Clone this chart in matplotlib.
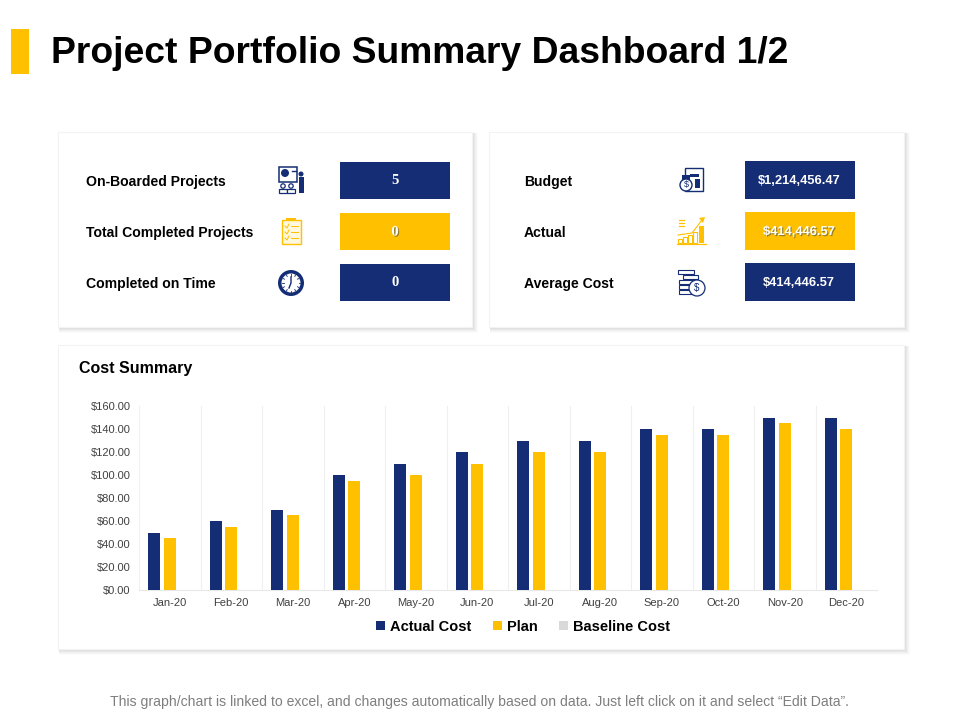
import matplotlib
matplotlib.use("Agg")
import matplotlib.pyplot as plt
import matplotlib.patheffects as pe
from matplotlib.patches import Rectangle, Circle, Polygon
from matplotlib.ticker import StrMethodFormatter
import numpy as np

plt.rcParams["font.family"] = ["Liberation Sans", "DejaVu Sans"]

NAVY = "#142d75"
GOLD = "#ffc000"

months = ["Jan-20", "Feb-20", "Mar-20", "Apr-20", "May-20", "Jun-20",
          "Jul-20", "Aug-20", "Sep-20", "Oct-20", "Nov-20", "Dec-20"]
actual_cost = [50, 60, 70, 100, 110, 120, 130, 130, 140, 140, 150, 150]
plan = [45, 55, 65, 95, 100, 110, 120, 120, 135, 135, 145, 140]
baseline_cost = [0, 0, 0, 0, 0, 0, 0, 0, 0, 0, 0, 0]

left_labels = ["On-Boarded Projects", "Total Completed Projects", "Completed on Time"]
left_values = ["5", "0", "0"]
right_labels = ["Budget", "Actual", "Average Cost"]
right_values = ["$1,214,456.47", "$414,446.57", "$414,446.57"]
row_y = [181, 232, 283]
box_colors = [NAVY, GOLD, NAVY]


def panel(bg, x0, y0, x1, y1):
    # soft shadow, then the white card
    for i, a in zip([5, 4, 3, 2, 1], [0.03, 0.04, 0.05, 0.06, 0.07]):
        bg.add_patch(Rectangle((x0 + 1, y0 + 1), x1 - x0 + i, y1 - y0 + i,
                               fc="#808080", ec="none", alpha=a))
    bg.add_patch(Rectangle((x0, y0), x1 - x0, y1 - y0, fc="white", ec="#f3f3f3", lw=0.8))


def icon_board(bg, cx, cy):
    bg.add_patch(Rectangle((cx - 12, cy - 13), 18, 15, fc="white", ec=NAVY, lw=1.1))
    bg.add_patch(Circle((cx - 6, cy - 7), 4, fc=NAVY, ec="none"))
    bg.plot([cx + 1, cx + 5], [cy - 9, cy - 9], color=NAVY, lw=1)
    bg.add_patch(Rectangle((cx + 8, cy - 3), 5, 16, fc=NAVY, ec="none"))
    bg.add_patch(Circle((cx + 10, cy - 6), 2.5, fc=NAVY, ec="none"))
    for dx in [-8, 0]:
        bg.add_patch(Circle((cx + dx, cy + 6), 2.2, fc="white", ec=NAVY, lw=0.9))
        bg.add_patch(Rectangle((cx + dx - 4, cy + 9), 8, 4, fc="white", ec=NAVY, lw=0.9))


def icon_clipboard(bg, cx, cy):
    bg.add_patch(Rectangle((cx - 9, cy - 11), 19, 24, fc="#fff8dc", ec=GOLD, lw=1))
    bg.add_patch(Rectangle((cx - 5, cy - 13), 10, 3, fc=GOLD, ec="none"))
    for dy in [-5, 1, 7]:
        bg.plot([cx - 6, cx - 4, cx - 2], [cy + dy, cy + dy + 2, cy + dy - 2], color=GOLD, lw=0.7)
        bg.plot([cx, cx + 7], [cy + dy, cy + dy], color=GOLD, lw=0.7)


def icon_clock(bg, cx, cy):
    bg.add_patch(Circle((cx, cy), 13, fc=NAVY, ec="none"))
    bg.add_patch(Circle((cx, cy), 9.5, fc="white", ec="none"))
    for a in np.arange(0, 360, 30):
        r = np.deg2rad(a)
        bg.plot([cx + 7.5 * np.cos(r), cx + 9 * np.cos(r)],
                [cy + 7.5 * np.sin(r), cy + 9 * np.sin(r)], color=NAVY, lw=0.6)
    bg.plot([cx, cx, cx - 2], [cy - 6, cy, cy + 5], color=NAVY, lw=1)


def icon_calc(bg, cx, cy):
    bg.add_patch(Rectangle((cx - 6, cy - 12), 18, 23, fc="white", ec=NAVY, lw=1))
    bg.add_patch(Rectangle((cx - 1, cy - 6), 9, 2.5, fc=NAVY, ec="none"))
    bg.add_patch(Rectangle((cx + 4, cy - 1), 5, 9, fc=NAVY, ec="none"))
    bg.add_patch(Rectangle((cx - 9, cy - 5), 8, 5, fc=NAVY, ec="none"))
    bg.add_patch(Circle((cx - 5, cy + 5), 6, fc="white", ec=NAVY, lw=1))
    bg.text(cx - 5, cy + 5, "$", fontsize=6.5, color=NAVY, ha="center", va="center")


def icon_growth(bg, cx, cy):
    for dx, h in zip([-13, -8, -3, 2], [4, 6, 8, 11]):
        bg.add_patch(Rectangle((cx + dx, cy + 11 - h), 4, h, fc="white", ec=GOLD, lw=0.8))
    bg.add_patch(Rectangle((cx + 8, cy - 6), 5, 17, fc=GOLD, ec="none"))
    bg.plot([cx - 14, cx + 15], [cy + 12, cy + 12], color=GOLD, lw=0.9)
    bg.plot([cx - 13, cx + 1, cx + 11], [cy + 3, cy + 1, cy - 12], color=GOLD, lw=0.8)
    bg.add_patch(Polygon([[cx + 8, cy - 14], [cx + 14, cy - 15], [cx + 12, cy - 9]], fc=GOLD, ec="none"))
    for dy in [-12, -9, -6]:
        bg.plot([cx - 12, cx - 7], [cy + dy, cy + dy], color=GOLD, lw=0.9)


def icon_coins(bg, cx, cy):
    bg.add_patch(Rectangle((cx - 13, cy - 13), 16, 4, fc="white", ec=NAVY, lw=0.8))
    bg.add_patch(Rectangle((cx - 8, cy - 8), 15, 3.5, fc="white", ec=NAVY, lw=0.8))
    for dy in [-3, 2, 7]:
        bg.add_patch(Rectangle((cx - 12, cy + dy), 14, 4, fc="white", ec=NAVY, lw=0.8))
    bg.add_patch(Circle((cx + 6, cy + 5), 8, fc="white", ec=NAVY, lw=0.9))
    bg.text(cx + 6, cy + 5, "$", fontsize=7, color=NAVY, ha="center", va="center")


def draw():
    fig = plt.figure(figsize=(9.6, 7.2), dpi=100, facecolor="white")

    # whole-figure layer in pixel units for the cards and labels
    bg = fig.add_axes([0, 0, 1, 1])
    bg.set_xlim(0, 960)
    bg.set_ylim(720, 0)
    bg.axis("off")

    bg.add_patch(Rectangle((11, 29), 18, 45, fc=GOLD, ec="none"))
    bg.text(51, 53.5, "Project Portfolio Summary Dashboard 1/2", fontsize=26.85,
            fontweight="bold", color="black", ha="left", va="center")

    panel(bg, 58, 132, 472, 327)
    panel(bg, 489, 132, 904, 327)
    panel(bg, 58, 345, 904, 649)

    for label, value, y, col in zip(left_labels, left_values, row_y, box_colors):
        bg.text(85.5, y + 1, label, fontsize=10.05, fontweight="bold", ha="left", va="center")
        bg.add_patch(Rectangle((340, y - 19), 110, 37, fc=col, ec="none"))
        t = bg.text(395, y, value, fontsize=10.5, fontweight="bold", color="white",
                    family="Liberation Serif", ha="center", va="center")
        if col == GOLD:
            t.set_path_effects([pe.withSimplePatchShadow(offset=(0.8, -0.8), shadow_rgbFace="#7a6a30", alpha=0.8)])

    for label, value, y, col in zip(right_labels, right_values, row_y, box_colors):
        bg.text(524, y + 1, label, fontsize=10.05, fontweight="bold", ha="left", va="center")
        bg.add_patch(Rectangle((745, y - 20), 110, 38, fc=col, ec="none"))
        t = bg.text(799, y, value, fontsize=9.3, fontweight="bold", color="white",
                    ha="center", va="center")
        if col == GOLD:
            t.set_path_effects([pe.withSimplePatchShadow(offset=(0.8, -0.8), shadow_rgbFace="#7a6a30", alpha=0.8)])

    icon_board(bg, 291, 180)
    icon_clipboard(bg, 291, 231)
    icon_clock(bg, 291, 283)
    icon_calc(bg, 691, 180)
    icon_growth(bg, 691, 232)
    icon_coins(bg, 691, 283)

    bg.text(79, 368.5, "Cost Summary", fontsize=11.5, fontweight="bold", ha="left", va="center")
    bg.text(480, 702, "This graph/chart is linked to excel, and changes automatically based on data. "
            "Just left click on it and select \u201cEdit Data\u201d.", fontsize=10.08, color="#7f7f7f",
            ha="center", va="center")

    # bar chart
    ax = fig.add_axes([139 / 960, 130 / 720, 738 / 960, 184 / 720])
    ax.patch.set_alpha(0)
    x = np.arange(len(months))
    w = 0.195
    ax.bar(x - 0.25, actual_cost, w, color=NAVY, label="Actual Cost", zorder=3)
    ax.bar(x, plan, w, color=GOLD, label="Plan", zorder=3)
    ax.bar(x + 0.25, baseline_cost, w, color="#d9d9d9", label="Baseline Cost", zorder=3)

    ax.set_xlim(-0.5, 11.5)
    ax.set_ylim(0, 160)
    ax.set_yticks(np.arange(0, 161, 20))
    ax.yaxis.set_major_formatter(StrMethodFormatter("${x:.2f}"))
    ax.set_xticks(x)
    ax.set_xticklabels(months)
    ax.set_xticks(np.arange(-0.5, 12, 1), minor=True)
    ax.grid(which="minor", axis="x", color="#efefef", lw=0.8, zorder=0)
    ax.tick_params(which="both", length=0)
    ax.tick_params(axis="y", labelsize=8, labelcolor="#404040", pad=6)
    ax.tick_params(axis="x", labelsize=8, labelcolor="#404040", pad=6)
    for s in ["top", "right", "left"]:
        ax.spines[s].set_visible(False)
    ax.spines["bottom"].set_color("#e8e8e8")
    ax.spines["bottom"].set_linewidth(0.8)

    ax.legend(loc="center", bbox_to_anchor=((523 - 139) / 738, (590 - 627) / 184), ncol=3,
              frameon=False, handlelength=0.6, handleheight=0.6, handletextpad=0.35,
              columnspacing=1.5, prop={"size": 10.5, "weight": "bold"})

    plt.savefig("out.png", dpi=100)


def main():
    draw()


if __name__ == "__main__":
    main()
